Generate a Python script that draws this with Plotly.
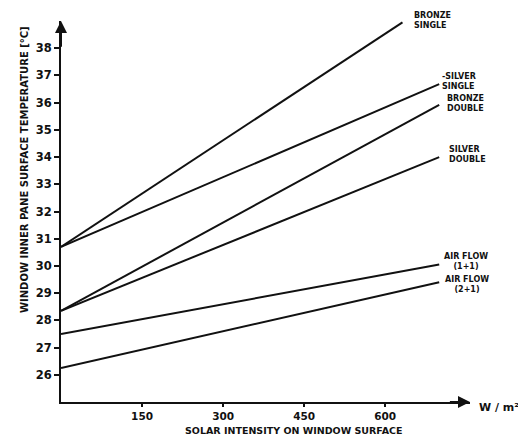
import plotly.graph_objects as go

# ---- data ----
series_names = ["BRONZE SINGLE", "SILVER SINGLE", "BRONZE DOUBLE",
                "SILVER DOUBLE", "AIR FLOW (1+1)", "AIR FLOW (2+1)"]
label_texts = ["BRONZE<br>SINGLE", "-SILVER<br>SINGLE", "BRONZE<br>DOUBLE",
               "SILVER<br>DOUBLE", "AIR FLOW<br>(1+1)", "AIR FLOW<br>(2+1)"]
x_start = [0, 0, 0, 0, 0, 0]
x_end = [632, 700, 700, 700, 700, 700]
t_start = [30.7, 30.7, 28.35, 28.35, 27.5, 26.25]
t_end = [38.95, 36.68, 35.92, 34.0, 30.05, 29.4]

x_ticks = [150, 300, 450, 600]
y_ticks = [26, 27, 28, 29, 30, 31, 32, 33, 34, 35, 36, 37, 38]

# label placement (pixel offsets from line ends)
label_dx = [10, 1, 6, 8, 3, 4]
label_dy = [2, 3, 1, 3, 3, -2]
label_align = ["left", "left", "left", "left", "center", "center"]

X_RANGE = [0, 757]
Y_RANGE = [25, 39.0]

FONT = "DejaVu Sans"

fig = go.Figure()
for i, name in enumerate(series_names):
    fig.add_trace(go.Scatter(
        x=[x_start[i], x_end[i]], y=[t_start[i], t_end[i]],
        mode="lines", name=name,
        line=dict(color="#111111", width=2),
        showlegend=False, hoverinfo="skip"))
    fig.add_annotation(
        x=x_end[i], y=t_end[i], xref="x", yref="y",
        text=label_texts[i], showarrow=False,
        xanchor="left", yanchor="middle", align=label_align[i],
        xshift=label_dx[i], yshift=label_dy[i],
        font=dict(family=FONT, size=8, color="#111111", weight="bold"))

# axis arrows
fig.add_annotation(x=X_RANGE[1], y=Y_RANGE[0], ax=X_RANGE[1] - 40, ay=Y_RANGE[0],
                   xref="x", yref="y", axref="x", ayref="y", text="",
                   showarrow=True, arrowhead=2, arrowsize=1.2, arrowwidth=2,
                   arrowcolor="#111111")
fig.add_annotation(x=0, y=Y_RANGE[1], ax=0, ay=Y_RANGE[1] - 1,
                   xref="x", yref="y", axref="x", ayref="y", text="",
                   showarrow=True, arrowhead=2, arrowsize=1.2, arrowwidth=2,
                   arrowcolor="#111111")

# unit label
fig.add_annotation(x=1, y=Y_RANGE[0], xref="paper", yref="y",
                   text="W / m²", showarrow=False, xanchor="left",
                   yanchor="middle", xshift=7, yshift=-5,
                   font=dict(family=FONT, size=11, color="#111111", weight="bold"))

# axis titles
fig.add_annotation(x=(294 - 61) / 409, y=0, xref="paper", yref="paper",
                   text="SOLAR INTENSITY ON WINDOW SURFACE", showarrow=False,
                   xanchor="center", yanchor="middle", yshift=-28,
                   font=dict(family=FONT, size=9.5, color="#111111", weight="bold"))
fig.add_annotation(x=0, y=(402 - 170) / 381, xref="paper", yref="paper",
                   text="WINDOW INNER PANE SURFACE TEMPERATURE [°C]",
                   showarrow=False, textangle=-90, xanchor="center",
                   yanchor="middle", xshift=-37,
                   font=dict(family=FONT, size=10, color="#111111", weight="bold"))

fig.update_xaxes(range=X_RANGE, tickvals=x_ticks, ticktext=[str(v) for v in x_ticks],
                 showgrid=False, zeroline=False, showline=True, linewidth=2,
                 linecolor="#111111", ticks="outside", ticklen=3, tickwidth=1.5,
                 tickcolor="#111111",
                 tickfont=dict(family=FONT, size=10.5, color="#111111", weight="bold"))
fig.update_yaxes(range=Y_RANGE, tickvals=y_ticks, ticktext=[str(v) for v in y_ticks],
                 showgrid=False, zeroline=False, showline=True, linewidth=2,
                 linecolor="#111111", ticks="outside", ticklen=5, tickwidth=1.5,
                 tickcolor="#111111",
                 tickfont=dict(family=FONT, size=11.5, color="#111111", weight="bold"))

fig.update_layout(width=518, height=439,
                  margin=dict(l=61, r=48, t=21, b=37),
                  paper_bgcolor="white", plot_bgcolor="white",
                  showlegend=False)

fig.write_html("out.html", config={"displayModeBar": False},
               post_script="document.body.style.margin='0';document.body.style.overflow='hidden';")
